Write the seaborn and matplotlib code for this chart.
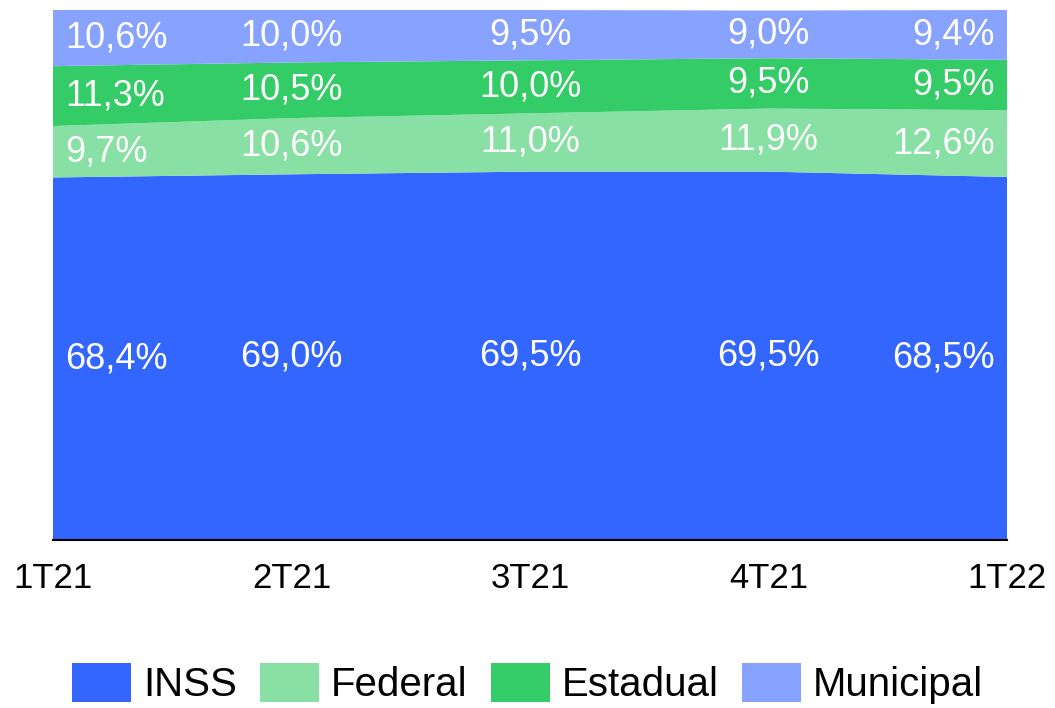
import matplotlib
matplotlib.use("Agg")
import matplotlib.pyplot as plt
import seaborn as sns

quarters = ["1T21", "2T21", "3T21", "4T21", "1T22"]
series_names = ["INSS", "Federal", "Estadual", "Municipal"]
inss = [68.4, 69.0, 69.5, 69.5, 68.5]
federal = [9.7, 10.6, 11.0, 11.9, 12.6]
estadual = [11.3, 10.5, 10.0, 9.5, 9.5]
municipal = [10.6, 10.0, 9.5, 9.0, 9.4]
colors = ["#3366FF", "#88E0A4", "#33CC66", "#88A3FF"]

sns.set_theme(style="white")
plt.rcParams['font.family'] = ['Liberation Sans', 'DejaVu Sans']

fig = plt.figure(figsize=(10.55, 7.08), dpi=100)
ax = fig.add_axes([0.0502, 0.2373, 0.9043, 0.7486])

x = list(range(len(quarters)))
series = [inss, federal, estadual, municipal]
polys = ax.stackplot(x, *series, colors=colors, labels=series_names,
                     linewidth=0, edgecolor='none')

ax.set_xlim(0, len(quarters) - 1)
ax.set_ylim(0, 100)
ax.set_yticks([])
ax.set_xticks(x)
ax.set_xticklabels(quarters, fontsize=25)
ax.tick_params(axis='x', length=0, pad=16, colors='black')
for s in ['top', 'left', 'right']:
    ax.spines[s].set_visible(False)
ax.spines['bottom'].set_color('black')
ax.spines['bottom'].set_linewidth(1.5)

# value labels, centred in each band
for i in x:
    base = 0
    for vals in series:
        v = vals[i]
        if i == 0:
            ha, xx = 'left', i + 0.05
        elif i == len(x) - 1:
            ha, xx = 'right', i - 0.05
        else:
            ha, xx = 'center', i
        ax.text(xx, base + v / 2, f"{v:.1f}%".replace('.', ','),
                ha=ha, va='center', color='white', fontsize=26)
        base += v

leg = fig.legend(polys, series_names, loc='center', bbox_to_anchor=(0.5, 0.034),
                 ncol=4, frameon=False, fontsize=29, handlelength=1.47,
                 handleheight=1.1, handletextpad=0.3, columnspacing=0.57)
for t in leg.get_texts():
    t.set_color('black')

fig.savefig("out.png", dpi=100)
